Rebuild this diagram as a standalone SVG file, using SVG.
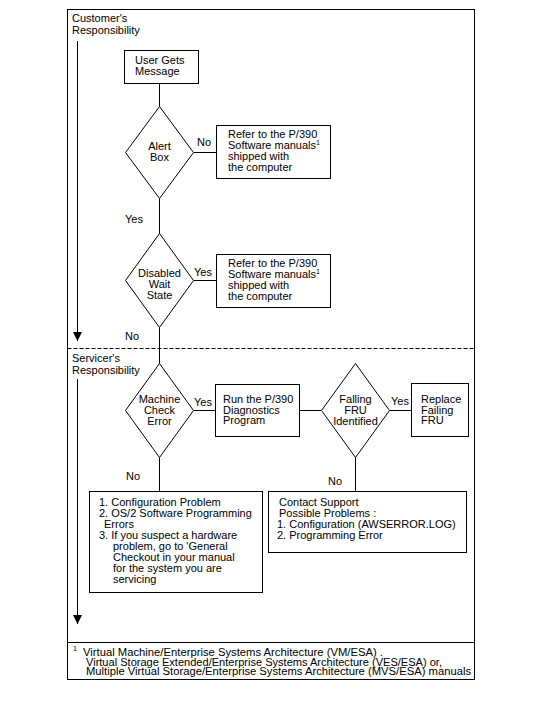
<svg xmlns="http://www.w3.org/2000/svg" width="542" height="706" viewBox="0 0 542 706">
<defs>
<style>
text{font-family:"Liberation Sans",Arial,sans-serif;font-size:11px;fill:#000}
.c{text-anchor:middle}
.fn{font-size:10px}
.sup{font-size:7px}
.shape{fill:#fff;stroke:#000;stroke-width:1}
.ln{stroke:#000;stroke-width:1;fill:none}
.dash{stroke:#000;stroke-width:1;stroke-dasharray:4,2;fill:none}
</style>
<marker id="ah" markerUnits="userSpaceOnUse" markerWidth="10" markerHeight="10" refX="9" refY="4.5" orient="auto">
<path d="M0,0 L9,4.5 L0,9 Z" fill="#000"/>
</marker>
</defs>
<rect width="542" height="706" fill="#fff"/>
<g id="frame">
<rect class="ln" x="67.5" y="9.5" width="407" height="670"/>
<line class="dash" x1="67.5" y1="348.5" x2="474.5" y2="348.5"/>
<line class="ln" x1="67.5" y1="642.5" x2="474.5" y2="642.5"/>
<text x="72" y="22">Customer's</text>
<text x="72" y="34">Responsibility</text>
<text x="72" y="362">Servicer's</text>
<text x="72" y="374">Responsibility</text>
</g>
<g id="connectors">
<line class="ln" x1="77.5" y1="41" x2="77.5" y2="341" marker-end="url(#ah)"/>
<line class="ln" x1="77.5" y1="379" x2="77.5" y2="624" marker-end="url(#ah)"/>
<line class="ln" x1="159.5" y1="83.5" x2="159.5" y2="106.5"/>
<line class="ln" x1="193.5" y1="152.5" x2="216.5" y2="152.5"/>
<line class="ln" x1="159.5" y1="198.5" x2="159.5" y2="233.5"/>
<line class="ln" x1="193.5" y1="280.5" x2="216.5" y2="280.5"/>
<line class="ln" x1="159.5" y1="327.5" x2="159.5" y2="363.5"/>
<line class="ln" x1="193.5" y1="410.5" x2="215.5" y2="410.5"/>
<line class="ln" x1="299.5" y1="410.5" x2="321.5" y2="410.5"/>
<line class="ln" x1="389.5" y1="410.5" x2="411.5" y2="410.5"/>
<line class="ln" x1="159.5" y1="457.5" x2="159.5" y2="491.5"/>
<line class="ln" x1="355.5" y1="457.5" x2="355.5" y2="491.5"/>
<text x="197" y="146">No</text>
<text x="125" y="223">Yes</text>
<text x="194" y="275.5">Yes</text>
<text x="125" y="340">No</text>
<text x="194" y="405.5">Yes</text>
<text x="391" y="405">Yes</text>
<text x="126" y="479.5">No</text>
<text x="328" y="484.5">No</text>
</g>
<g id="user-gets-message">
<rect class="shape" x="124.5" y="50.5" width="74" height="33"/>
<text x="135" y="63.5">User Gets</text>
<text x="135" y="75">Message</text>
</g>
<g id="alert-box">
<polygon class="shape" points="159.5,106.5 193.5,152.5 159.5,198.5 125.5,152.5"/>
<text class="c" x="159.5" y="150">Alert</text>
<text class="c" x="159.5" y="161">Box</text>
</g>
<g id="refer-1">
<rect class="shape" x="216.5" y="125.5" width="114" height="53"/>
<text x="228" y="137.5">Refer to the P/390</text>
<text x="228" y="148.5">Software manuals<tspan class="sup" dy="-4">1</tspan></text>
<text x="228" y="160">shipped with</text>
<text x="228" y="170.5">the computer</text>
</g>
<g id="disabled-wait-state">
<polygon class="shape" points="159.5,233.5 193.5,280.5 159.5,327.5 125.5,280.5"/>
<text class="c" x="159.5" y="276.5">Disabled</text>
<text class="c" x="159.5" y="287.5">Wait</text>
<text class="c" x="159.5" y="298.5">State</text>
</g>
<g id="refer-2">
<rect class="shape" x="216.5" y="254.5" width="114" height="53"/>
<text x="228" y="267">Refer to the P/390</text>
<text x="228" y="278">Software manuals<tspan class="sup" dy="-4">1</tspan></text>
<text x="228" y="289">shipped with</text>
<text x="228" y="300">the computer</text>
</g>
<g id="machine-check-error">
<polygon class="shape" points="159.5,363.5 193.5,410.5 159.5,457.5 125.5,410.5"/>
<text class="c" x="159.5" y="403">Machine</text>
<text class="c" x="159.5" y="413.5">Check</text>
<text class="c" x="159.5" y="424.5">Error</text>
</g>
<g id="run-diagnostics">
<rect class="shape" x="215.5" y="384.5" width="84" height="52"/>
<text x="223" y="403">Run the P/390</text>
<text x="223" y="413.5">Diagnostics</text>
<text x="223" y="424">Program</text>
</g>
<g id="failing-fru-identified">
<polygon class="shape" points="355.5,363.5 389.5,410.5 355.5,457.5 321.5,410.5"/>
<text class="c" x="355.5" y="402.5">Falling</text>
<text class="c" x="355.5" y="413.5">FRU</text>
<text class="c" x="355.5" y="424.5">Identified</text>
</g>
<g id="replace-fru">
<rect class="shape" x="411.5" y="383.5" width="57" height="53"/>
<text x="421" y="402.5">Replace</text>
<text x="421" y="413.5">Failing</text>
<text x="421" y="424">FRU</text>
</g>
<g id="problem-list">
<rect class="shape" x="89.5" y="491.5" width="173" height="101"/>
<text x="99" y="505.5">1. Configuration Problem</text>
<text x="99" y="517">2. OS/2 Software Programming</text>
<text x="104" y="528">Errors</text>
<text x="99" y="539">3. If you suspect a hardware</text>
<text x="113" y="550">problem, go to 'General</text>
<text x="113" y="561">Checkout in your manual</text>
<text x="113" y="572">for the system you are</text>
<text x="113" y="583">servicing</text>
</g>
<g id="contact-support">
<rect class="shape" x="268.5" y="491.5" width="198" height="61"/>
<text x="279" y="505.5">Contact Support</text>
<text x="279" y="517">Possible Problems :</text>
<text x="277" y="528">1. Configuration (AWSERROR.LOG)</text>
<text x="277" y="539">2. Programming Error</text>
</g>
<g id="footnote">
<text class="sup" x="73" y="650.5">1</text>
<text class="fn" x="83" y="656" textLength="300" lengthAdjust="spacingAndGlyphs">Virtual Machine/Enterprise Systems Architecture (VM/ESA) .</text>
<text class="fn" x="86" y="665.5" textLength="356" lengthAdjust="spacingAndGlyphs">Virtual Storage Extended/Enterprise Systems Architecture (VES/ESA) or,</text>
<text class="fn" x="86" y="675" textLength="385" lengthAdjust="spacingAndGlyphs">Multiple Virtual Storage/Enterprise Systems Architecture (MVS/ESA) manuals</text>
</g>
</svg>
